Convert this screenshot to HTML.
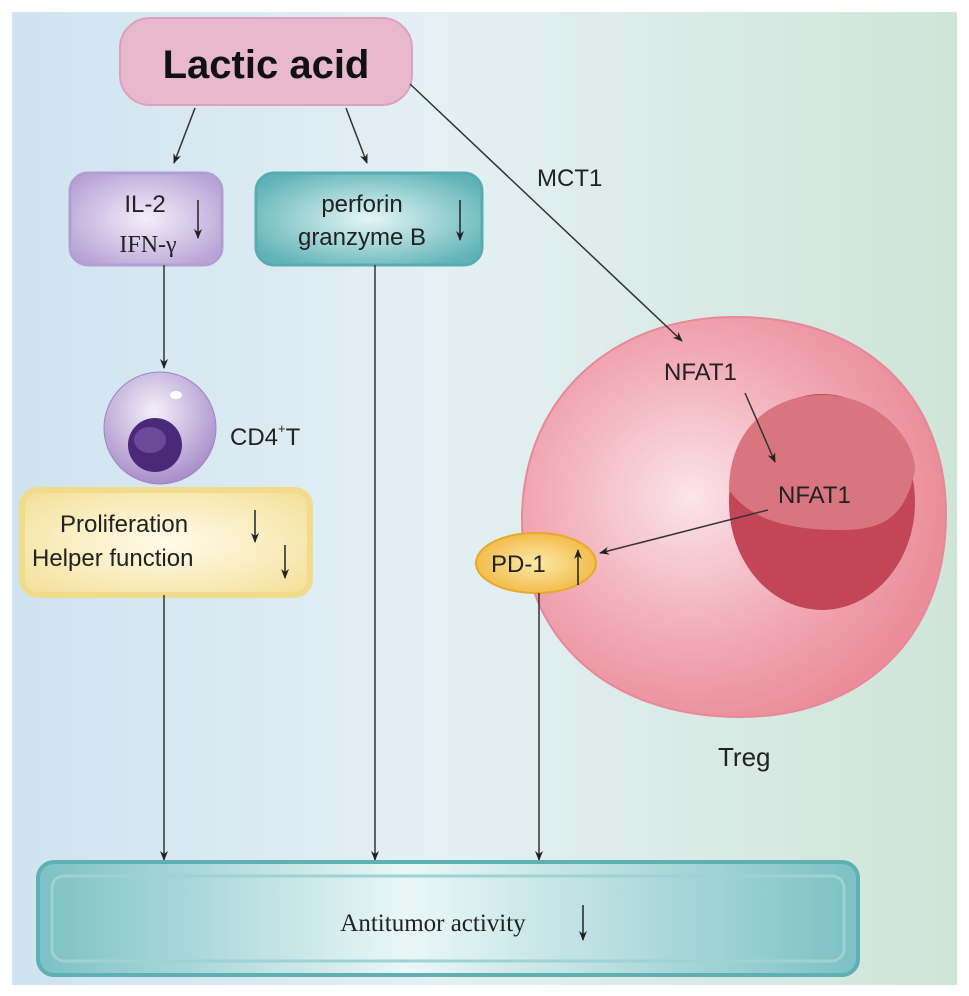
<!DOCTYPE html>
<html><head><style>
body{margin:0;background:#fff}
svg{display:block;font-family:"Liberation Sans",sans-serif}
</style></head><body>
<svg width="969" height="996" viewBox="0 0 969 996">
<defs>
<linearGradient id="bg" x1="0" y1="0" x2="1" y2="0">
<stop offset="0" stop-color="#cfe3f0"/><stop offset="0.45" stop-color="#e4f0f4"/><stop offset="1" stop-color="#cfe5d8"/>
</linearGradient>
<radialGradient id="cell" cx="0.4" cy="0.45" r="0.6">
<stop offset="0" stop-color="#fbe4ea"/><stop offset="0.6" stop-color="#f1aab5"/><stop offset="1" stop-color="#ea8c99"/>
</radialGradient>
<radialGradient id="pur" cx="0.5" cy="0.5" r="0.6"><stop offset="0" stop-color="#f4eefa"/><stop offset="1" stop-color="#b8a3d6"/></radialGradient>
<radialGradient id="teal" cx="0.5" cy="0.5" r="0.6"><stop offset="0" stop-color="#e4f6f6"/><stop offset="1" stop-color="#5fb3b6"/></radialGradient>
<radialGradient id="yel" cx="0.5" cy="0.5" r="0.7"><stop offset="0" stop-color="#fffbea"/><stop offset="1" stop-color="#f4df96"/></radialGradient>
<radialGradient id="cd4" cx="0.45" cy="0.35" r="0.65"><stop offset="0" stop-color="#f4f0fa"/><stop offset="1" stop-color="#a88ec9"/></radialGradient>
<radialGradient id="pd" cx="0.5" cy="0.5" r="0.6"><stop offset="0" stop-color="#fde9a8"/><stop offset="1" stop-color="#f0b43a"/></radialGradient>
<linearGradient id="bar" x1="0" y1="0" x2="1" y2="0"><stop offset="0" stop-color="#7cc1c4"/><stop offset="0.45" stop-color="#eaf7f7"/><stop offset="1" stop-color="#7cc1c4"/></linearGradient>
<marker id="a" markerWidth="10" markerHeight="10" refX="9" refY="5" orient="auto" markerUnits="userSpaceOnUse"><path d="M0,1 L10,5 L0,9 L3,5z" fill="#222"/></marker>
</defs>
<rect x="12" y="12" width="945" height="973" fill="url(#bg)"/>
<!-- Lactic acid -->
<rect x="120" y="18" width="292" height="87" rx="30" fill="#e8b8cc" stroke="#dba2bb" stroke-width="2"/>
<text x="266" y="78" text-anchor="middle" font-size="40" font-weight="bold" fill="#111">Lactic acid</text>
<!-- IL-2 -->
<rect x="70" y="173" width="152" height="92" rx="18" fill="url(#pur)" stroke="#b29ed3" stroke-width="3"/>
<text x="145" y="212" text-anchor="middle" font-size="24" fill="#222">IL-2</text>
<text x="148" y="252" text-anchor="middle" font-size="24" font-family="Liberation Serif,serif" fill="#222">IFN-γ</text>
<line x1="198" y1="200" x2="198" y2="238" stroke="#222" stroke-width="1.5" marker-end="url(#a)"/>
<!-- perforin -->
<rect x="256" y="173" width="226" height="92" rx="18" fill="url(#teal)" stroke="#58acb0" stroke-width="3"/>
<text x="362" y="212" text-anchor="middle" font-size="24" fill="#222">perforin</text>
<text x="362" y="245" text-anchor="middle" font-size="24" fill="#222">granzyme B</text>
<line x1="460" y1="200" x2="460" y2="240" stroke="#222" stroke-width="1.5" marker-end="url(#a)"/>
<!-- arrows from lactic -->
<line x1="195" y1="108" x2="174" y2="163" stroke="#333" stroke-width="1.5" marker-end="url(#a)"/>
<line x1="346" y1="108" x2="367" y2="163" stroke="#333" stroke-width="1.5" marker-end="url(#a)"/>
<text x="537" y="186" font-size="24" fill="#222">MCT1</text>
<!-- CD4 -->
<line x1="164" y1="265" x2="164" y2="368" stroke="#333" stroke-width="1.5" marker-end="url(#a)"/>
<circle cx="160" cy="428" r="56" fill="url(#cd4)" stroke="#9c86c2" stroke-width="1"/>
<ellipse cx="176" cy="395" rx="6" ry="4" fill="#fff"/>
<circle cx="155" cy="445" r="27" fill="#4a2a78"/>
<ellipse cx="150" cy="440" rx="16" ry="13" fill="#6a4a99"/>
<text x="230" y="445" font-size="24" fill="#222">CD4<tspan font-size="13" dy="-12">+</tspan><tspan dy="12">T</tspan></text>
<!-- proliferation -->
<rect x="22" y="490" width="288" height="105" rx="16" fill="url(#yel)" stroke="#f0dc8c" stroke-width="6"/>
<text x="60" y="532" font-size="24" fill="#222">Proliferation</text>
<text x="32" y="566" font-size="24" fill="#222">Helper function</text>
<line x1="255" y1="510" x2="255" y2="542" stroke="#222" stroke-width="1.5" marker-end="url(#a)"/>
<line x1="285" y1="545" x2="285" y2="578" stroke="#222" stroke-width="1.5" marker-end="url(#a)"/>
<!-- cell -->
<path d="M735,317 C870,317 946,400 946,515 C946,640 860,717 740,717 C610,717 522,640 522,520 C522,400 610,317 735,317Z" fill="url(#cell)" stroke="#e88896" stroke-width="2"/>
<ellipse cx="822" cy="502" rx="93" ry="108" fill="#c24656"/>
<path d="M729,490 C729,430 770,395 822,395 C880,395 915,440 915,470 C905,520 880,530 840,530 C790,530 750,520 729,490Z" fill="#d9757f"/>
<line x1="410" y1="84" x2="682" y2="341" stroke="#333" stroke-width="1.5" marker-end="url(#a)"/>
<text x="664" y="380" font-size="24" fill="#222">NFAT1</text>
<line x1="745" y1="393" x2="775" y2="462" stroke="#333" stroke-width="1.5" marker-end="url(#a)"/>
<text x="778" y="503" font-size="24" fill="#222">NFAT1</text>
<line x1="768" y1="510" x2="600" y2="553" stroke="#333" stroke-width="1.5" marker-end="url(#a)"/>
<ellipse cx="536" cy="563" rx="60" ry="30" fill="url(#pd)" stroke="#e6a92c" stroke-width="2"/>
<text x="491" y="572" font-size="24" fill="#222">PD-1</text>
<line x1="578" y1="585" x2="578" y2="550" stroke="#222" stroke-width="1.5" marker-end="url(#a)"/>
<text x="718" y="766" font-size="26" fill="#222">Treg</text>
<!-- downward lines -->
<line x1="164" y1="595" x2="164" y2="860" stroke="#333" stroke-width="1.5" marker-end="url(#a)"/>
<line x1="375" y1="265" x2="375" y2="860" stroke="#333" stroke-width="1.5" marker-end="url(#a)"/>
<line x1="539" y1="593" x2="539" y2="860" stroke="#333" stroke-width="1.5" marker-end="url(#a)"/>
<!-- bar -->
<rect x="38" y="862" width="820" height="113" rx="16" fill="url(#bar)" stroke="#5eb0b3" stroke-width="4"/>
<rect x="52" y="876" width="792" height="85" rx="12" fill="none" stroke="#9fd2d4" stroke-width="3"/>
<text x="433" y="931" text-anchor="middle" font-size="25" font-family="Liberation Serif,serif" fill="#222">Antitumor activity</text>
<line x1="583" y1="905" x2="583" y2="940" stroke="#222" stroke-width="1.5" marker-end="url(#a)"/>
</svg>
</body></html>
